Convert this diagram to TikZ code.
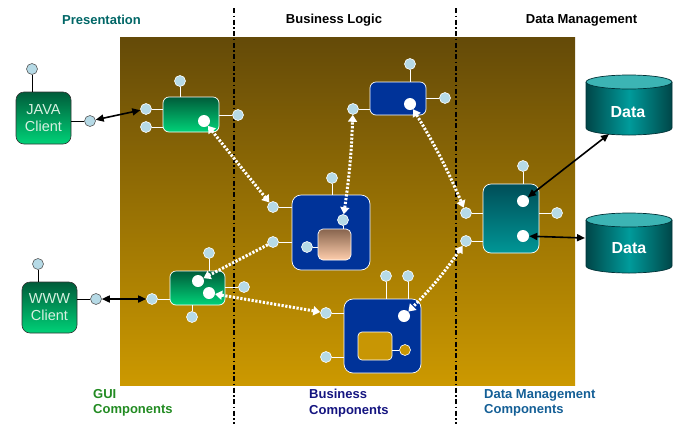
\documentclass[tikz,border=0pt]{standalone}
\usepackage{fontspec}
\setmainfont{Liberation Sans}
\usetikzlibrary{arrows.meta}
\definecolor{pinblue}{RGB}{182,218,230}
\definecolor{bgtop}{RGB}{100,74,8}
\definecolor{bgbot}{RGB}{204,153,0}
\definecolor{gold}{RGB}{200,150,4}
\definecolor{compblue}{RGB}{0,51,153}
\definecolor{gtop}{RGB}{0,92,58}
\definecolor{gbot}{RGB}{0,210,120}
\definecolor{ttop}{RGB}{0,78,88}
\definecolor{tbot}{RGB}{0,150,150}
\definecolor{cyldark}{RGB}{0,70,72}
\definecolor{cylmid}{RGB}{0,155,155}
\definecolor{cyltop}{RGB}{60,180,180}
\definecolor{cylline}{RGB}{0,50,55}
\definecolor{cltext}{RGB}{215,240,225}
\definecolor{prescol}{RGB}{0,102,102}
\definecolor{guicol}{RGB}{34,139,34}
\definecolor{buscol}{RGB}{20,20,128}
\definecolor{dmcol}{RGB}{20,95,150}
\begin{document}
\begin{tikzpicture}[x=1pt,y=-1pt,
  comp/.style={rectangle, rounded corners=6pt, draw=white, line width=0.7pt, inner sep=0pt},
  greencomp/.style={comp, top color=gtop, bottom color=gbot},
  bluecomp/.style={comp, fill=compblue},
  tealcomp/.style={comp, top color=ttop, bottom color=tbot},
  client/.style={rectangle, rounded corners=8pt, draw=black!80, line width=0.6pt, top color=gtop, bottom color=gbot,
     minimum width=55pt, minimum height=52pt, inner sep=0pt, align=center, text=cltext,
     font=\fontsize{14.5}{17}\selectfont},
  pinball/.style={circle, fill=pinblue, draw=white, line width=0.6pt, minimum size=11pt, inner sep=0pt},
  pinout/.style={pinball, draw=black!65},
  dotball/.style={circle, fill=white, minimum size=12pt, inner sep=0pt},
  pinline/.style={draw=white, line width=0.7pt},
  pinlineout/.style={draw=black, line width=0.7pt},
  warrow/.style={draw=white, line width=3pt, dash pattern=on 2.2pt off 1.6pt,
     {Triangle[width=9pt,length=7pt]}-{Triangle[width=9pt,length=7pt]}},
  warrowone/.style={draw=white, line width=3pt, dash pattern=on 2.2pt off 1.6pt,
     -{Triangle[width=9pt,length=7pt]}},
  barrow/.style={draw=black, line width=1.6pt,
     {Triangle[width=7pt,length=8pt]}-{Triangle[width=7pt,length=8pt]}},
  tierline/.style={draw=black, line width=1.3pt, dash pattern=on 5pt off 2.5pt on 1.5pt off 2.5pt},
  head/.style={font=\bfseries\fontsize{13}{15}\selectfont, inner sep=0pt},
  foot/.style={font=\bfseries\fontsize{13}{15.5}\selectfont, inner sep=0pt, align=left, anchor=north west},
  datatext/.style={font=\bfseries\fontsize{16}{18}\selectfont, text=white, inner sep=0pt}
]
\useasboundingbox (0,0) rectangle (691,424);
% background
\shade[top color=bgtop, bottom color=bgbot] (120,37) rectangle (575,385);
% tier separators
\coordinate (s1t) at (234,8);
\coordinate (s1b) at (234,424);
\coordinate (s2t) at (456,8);
\coordinate (s2b) at (456,424);
\draw[tierline] (s1t) -- (s1b);
\draw[tierline] (s2t) -- (s2b);
% headings
\node[head, text=prescol] (hpres) at (101.5,20) {Presentation};
\node[head] (hbus) at (334,20) {Business Logic};
\node[head] (hdm) at (581.5,20) {Data Management};
% footers
\node[foot, text=guicol] (fgui) at (93,389) {GUI\\Components};
\node[foot, text=buscol] (fbus) at (309,389) {Business\\Components};
\node[foot, text=dmcol] (fdm) at (484,389) {Data Management\\Components};

% clients
\node[client] (java) at (43.5,118) {JAVA\\Client};
\node[client, minimum height=51pt] (www) at (49.5,307.5) {WWW\\Client};
\node[pinout] (javaT) at (32,69) {};
\node[pinout] (javaR) at (90,121) {};
\node[pinout] (wwwT) at (38,264) {};
\node[pinout] (wwwR) at (96,299) {};
\draw[pinlineout] (javaT) -- (javaT |- java.north);
\draw[pinlineout] (javaR) -- (javaR -| java.east);
\draw[pinlineout] (wwwT) -- (wwwT |- www.north);
\draw[pinlineout] (wwwR) -- (wwwR -| www.east);

% GUI component 1
\node[greencomp, minimum width=56pt, minimum height=35pt] (gui1) at (191,114.5) {};
\node[pinball] (gui1T) at (180,81) {};
\node[pinball] (gui1La) at (146,109) {};
\node[pinball] (gui1Lb) at (146,127) {};
\node[pinball] (gui1R) at (238,115) {};
\draw[pinline] (gui1T) -- (gui1T |- gui1.north);
\draw[pinline] (gui1La) -- (gui1La -| gui1.west);
\draw[pinline] (gui1Lb) -- (gui1Lb -| gui1.west);
\draw[pinline] (gui1R) -- (gui1R -| gui1.east);
\node[dotball] (gui1D) at (204,121) {};

% GUI component 2
\node[greencomp, minimum width=55pt, minimum height=34pt] (gui2) at (197.5,288) {};
\node[pinball] (gui2T) at (209,253) {};
\node[pinball] (gui2B) at (192,317) {};
\node[pinball] (gui2L) at (152,299) {};
\node[pinball] (gui2R) at (244,287) {};
\draw[pinline] (gui2T) -- (gui2T |- gui2.north);
\draw[pinline] (gui2B) -- (gui2B |- gui2.south);
\draw[pinline] (gui2L) -- (gui2L -| gui2.west);
\draw[pinline] (gui2R) -- (gui2R -| gui2.east);
\node[dotball] (gui2Da) at (198,281) {};
\node[dotball] (gui2Db) at (209,293) {};

% business component (top)
\node[bluecomp, minimum width=56pt, minimum height=33pt] (b1) at (398,98.5) {};
\node[pinball] (b1T) at (410,64) {};
\node[pinball] (b1R) at (445,98) {};
\node[pinball] (b1L) at (353,109) {};
\draw[pinline] (b1T) -- (b1T |- b1.north);
\draw[pinline] (b1R) -- (b1R -| b1.east);
\draw[pinline] (b1L) -- (b1L -| b1.west);
\node[dotball] (b1D) at (410,104) {};

% business component (central)
\node[bluecomp, rounded corners=9pt, minimum width=78pt, minimum height=75pt] (cc) at (331,232.5) {};
\node[pinball] (ccT) at (332,178) {};
\node[pinball] (ccLa) at (273,207) {};
\node[pinball] (ccLb) at (273,242) {};
\draw[pinline] (ccT) -- (ccT |- cc.north);
\draw[pinline] (ccLa) -- (ccLa -| cc.west);
\draw[pinline] (ccLb) -- (ccLb -| cc.west);
\node[comp, rounded corners=5pt, top color={rgb,255:red,135;green,100;blue,78}, bottom color={rgb,255:red,255;green,206;blue,172},
   minimum width=33pt, minimum height=31pt] (ci) at (334.5,244.5) {};
\node[pinball] (ciT) at (343,220) {};
\node[pinball] (ciL) at (307,247) {};
\draw[pinline] (ciT) -- (ciT |- ci.north);
\draw[pinline] (ciL) -- (ciL -| ci.west);

% business component (lower)
\node[bluecomp, rounded corners=9pt, minimum width=77pt, minimum height=74pt] (lo) at (382.5,336) {};
\node[pinball] (loTa) at (386,276) {};
\node[pinball] (loTb) at (408,276) {};
\node[pinball] (loLa) at (326,313) {};
\node[pinball] (loLb) at (326,357) {};
\draw[pinline] (loTa) -- (loTa |- lo.north);
\draw[pinline] (loTb) -- (loTb |- lo.north);
\draw[pinline] (loLa) -- (loLa -| lo.west);
\draw[pinline] (loLb) -- (loLb -| lo.west);
\node[comp, rounded corners=4pt, fill=gold, minimum width=34pt, minimum height=28pt] (li) at (375,346) {};
\node[circle, fill=gold, draw=white, line width=0.6pt, minimum size=11pt, inner sep=0pt] (liR) at (405,350) {};
\draw[pinline] (liR) -- (liR -| li.east);
\node[dotball] (loD) at (404,316) {};

% data management component
\node[tealcomp, rounded corners=8pt, minimum width=56pt, minimum height=69pt] (dm) at (511,218.5) {};
\node[pinball] (dmT) at (523,166) {};
\node[pinball] (dmR) at (557,213) {};
\node[pinball] (dmLa) at (466,213) {};
\node[pinball] (dmLb) at (466,241) {};
\draw[pinline] (dmT) -- (dmT |- dm.north);
\draw[pinline] (dmR) -- (dmR -| dm.east);
\draw[pinline] (dmLa) -- (dmLa -| dm.west);
\draw[pinline] (dmLb) -- (dmLb -| dm.west);
\node[dotball] (dmDa) at (523,201) {};
\node[dotball] (dmDb) at (523,236) {};

% data stores
\shade[left color=cyldark, right color=cyldark, middle color=cylmid]
  (586,82) -- (586,128) arc[x radius=43, y radius=7, start angle=180, end angle=0] -- (672,82) -- cycle;
\draw[cylline, line width=0.7pt]
  (586,82) -- (586,128) arc[x radius=43, y radius=7, start angle=180, end angle=0] -- (672,82);
\filldraw[fill=cyltop, draw=cylline, line width=0.7pt] (629,82) ellipse[x radius=43, y radius=7];
\node[datatext] (d1) at (628,112) {Data};
\coordinate (d1b) at (609,134);

\shade[left color=cyldark, right color=cyldark, middle color=cylmid]
  (586,220) -- (586,266) arc[x radius=43, y radius=7, start angle=180, end angle=0] -- (672,266) -- (672,220) -- cycle;
\draw[cylline, line width=0.7pt]
  (586,220) -- (586,266) arc[x radius=43, y radius=7, start angle=180, end angle=0] -- (672,220);
\filldraw[fill=cyltop, draw=cylline, line width=0.7pt] (629,220) ellipse[x radius=43, y radius=7];
\node[datatext] (d2) at (629,248) {Data};
\coordinate (d2l) at (585,238);

% black connectors
\draw[barrow] (javaR) -- (gui1La);
\draw[barrow] (wwwR) -- (gui2L);
\draw[barrow] (dmDa) -- (d1b);
\draw[barrow] (dmDb) -- (d2l);

% white dotted connectors
\draw[warrow] (gui1D) -- (ccLa);
\draw[warrow] (ciT) to[bend right=3] (b1L);
\draw[warrow] (b1D) to[bend left=4] (dmLa);
\draw[warrowone] (ccLb) -- (gui2Da);
\draw[warrow] (gui2Db) -- (loLa);
\draw[warrow] (dmLb) to[bend left=5] (loD);
\end{tikzpicture}
\end{document}
